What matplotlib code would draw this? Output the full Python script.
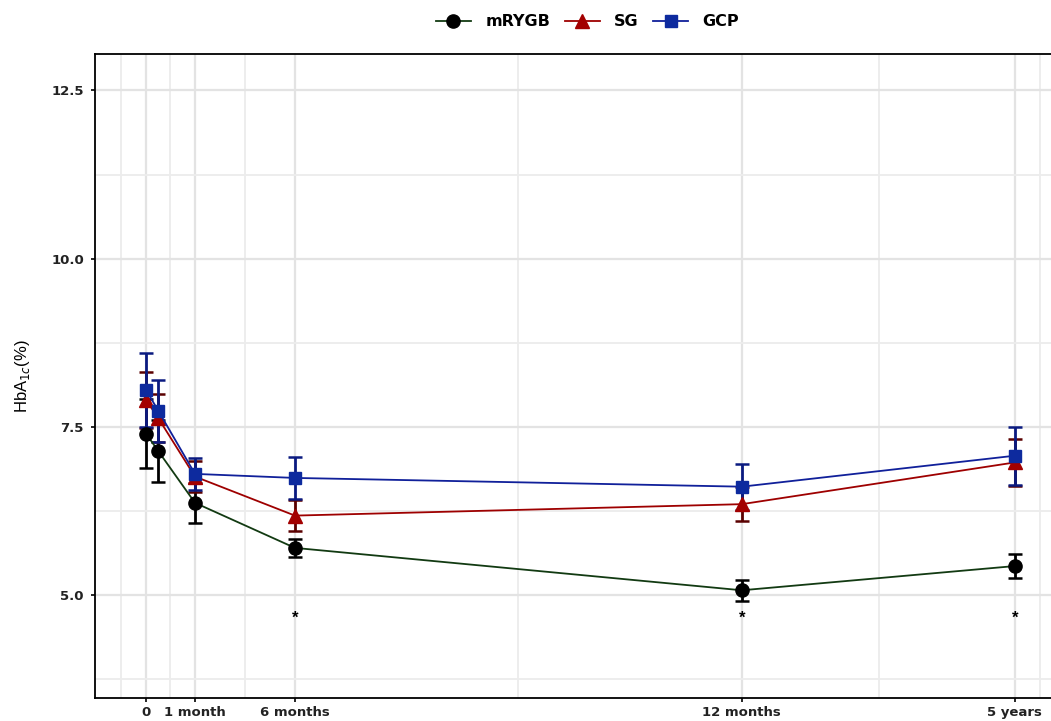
import numpy as np
import matplotlib.pyplot as plt

plt.rcParams['font.family'] = ['Liberation Sans', 'DejaVu Sans']

# visit positions on the time axis (0, early, 1 month, 6 months, 12 months, 5 years)
visit_x = [0, 0.25, 1, 3.04, 12.16, 17.73]
tick_x = [0, 1, 3.04, 12.16, 17.73]
tick_labels = ['0', '1 month', '6 months', '12 months', '5 years']

rygb_mean = [7.40, 7.14, 6.37, 5.70, 5.07, 5.43]
rygb_err = [0.51, 0.46, 0.30, 0.13, 0.16, 0.18]
sg_mean = [7.90, 7.63, 6.76, 6.18, 6.35, 6.97]
sg_err = [0.42, 0.36, 0.23, 0.23, 0.25, 0.35]
gcp_mean = [8.05, 7.74, 6.80, 6.74, 6.61, 7.07]
gcp_err = [0.55, 0.46, 0.24, 0.31, 0.34, 0.43]

star_x = [3.04, 12.16, 17.73]
star_y = 4.66

fig = plt.figure(figsize=(10.51, 7.21), dpi=100)
ax = fig.add_axes([0.0904, 0.032, 0.9096, 0.893])

series = [
    ('mRYGB', rygb_mean, rygb_err, 'o', '#123a12', 'black', 'black', 9.5),
    ('SG', sg_mean, sg_err, '^', '#9e0000', '#a30000', '#5a0000', 10.5),
    ('GCP', gcp_mean, gcp_err, 's', '#10209a', '#0d2a9e', '#0a1a80', 9),
]

handles = []
for name, m, e, mk, lc, fc, ec, ms in series:
    ax.errorbar(visit_x, m, yerr=e, fmt='none', ecolor=ec, elinewidth=2,
                capsize=5, capthick=1.8, zorder=3)
    h, = ax.plot(visit_x, m, color=lc, lw=1.3, marker=mk, markersize=ms,
                 markerfacecolor=fc, markeredgecolor=fc, label=name, zorder=4)
    handles.append(h)

for x in star_x:
    ax.text(x, star_y, '*', ha='center', va='center', fontsize=12,
            fontweight='bold', color='black')

ax.set_xlim(-1.04, 18.47)
ax.set_ylim(3.47, 13.04)
ax.set_xticks(tick_x)
ax.set_xticklabels(tick_labels)
ax.set_yticks([5.0, 7.5, 10.0, 12.5])
ax.set_yticklabels(['5.0', '7.5', '10.0', '12.5'])

minor_x = [-0.5, 0.5, 2.02, 7.6, 14.95, 18.24]
ax.set_xticks(minor_x, minor=True)
ax.set_yticks([3.75, 6.25, 8.75, 11.25], minor=True)
ax.grid(which='major', color='#e3e3e3', lw=1.6)
ax.grid(which='minor', color='#ececec', lw=1.3)
ax.set_axisbelow(True)
ax.tick_params(which='minor', length=0)
ax.tick_params(which='major', length=3, width=1.2, colors='black', pad=3)
ax.tick_params(axis='y', pad=5)
for lab in ax.get_xticklabels() + ax.get_yticklabels():
    lab.set_family('DejaVu Sans')
    lab.set_fontweight('bold')
    lab.set_fontsize(9.5)
    lab.set_color('#222222')

for s in ['left', 'bottom', 'top']:
    ax.spines[s].set_linewidth(1.3)
ax.spines['right'].set_visible(False)

ax.set_ylabel(r'HbA$_{1c}$(%)', fontsize=12, labelpad=14)

fig.legend(handles=handles, loc='upper center', bbox_to_anchor=(0.559, 1.0),
           ncol=3, frameon=False, handlelength=2.2,
           columnspacing=0.9, handletextpad=0.9,
           prop={'family': 'DejaVu Sans', 'weight': 'bold', 'size': 11.5})

fig.savefig('out.png', dpi=100)
